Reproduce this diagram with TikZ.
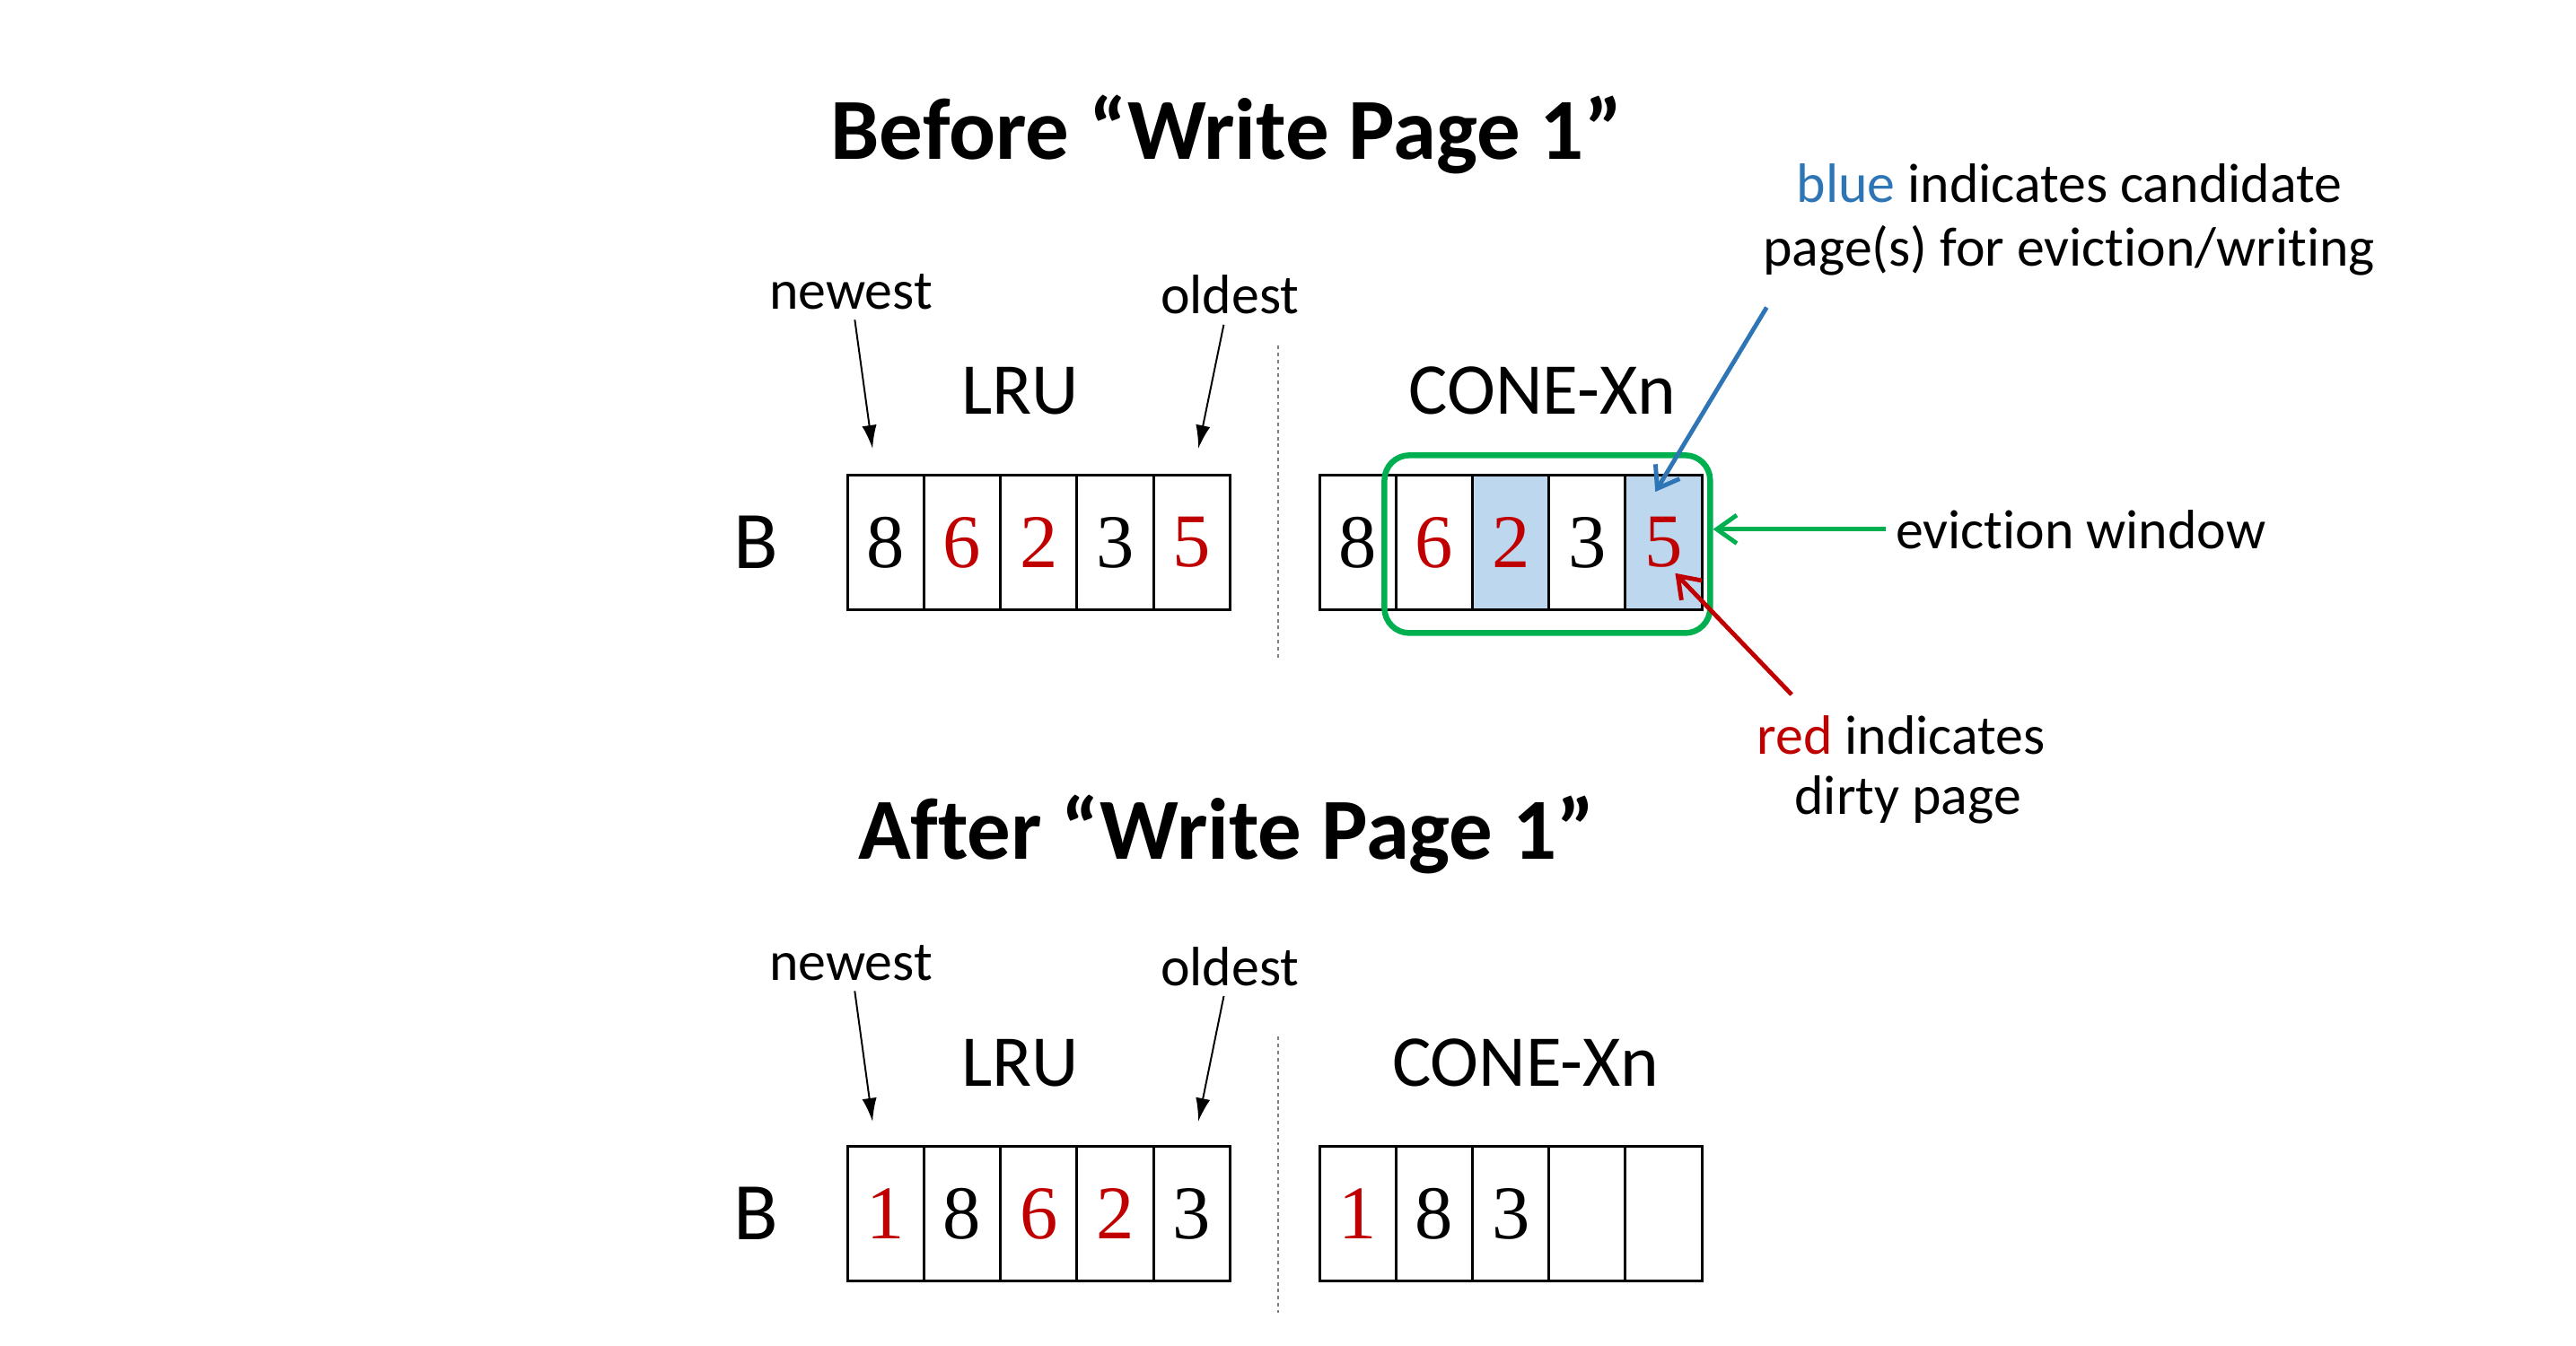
\documentclass[tikz,border=0pt]{standalone}
\usepackage{fontspec}
\setmainfont{Carlito}[Ligatures=NoCommon]
\newfontfamily\digitfont{Liberation Serif}
\usetikzlibrary{arrows.meta}
\definecolor{dirtyred}{HTML}{C00000}
\definecolor{candblue}{HTML}{2E75B6}
\definecolor{candfill}{HTML}{BDD7EE}
\definecolor{wingreen}{HTML}{00B050}
\tikzset{
    cell/.style={draw, line width=0.9pt, minimum width=0.92cm, minimum height=1.62cm, inner sep=0pt, font=\digitfont\fontsize{26}{26}\selectfont},
    dirty/.style={text=dirtyred},
    cand/.style={fill=candfill},
    titletext/.style={anchor=base, font=\bfseries\fontsize{29.8}{29.8}\selectfont},
    policy/.style={anchor=base, font=\fontsize{25}{25}\selectfont},
    buf/.style={anchor=base, font=\fontsize{28}{28}\selectfont},
    note/.style={anchor=base, font=\fontsize{19}{19}\selectfont},
    pointer/.style={-{Latex[length=8pt,width=5pt]}, line width=0.6pt},
    hint/.style={-{Straight Barb[length=0.24cm,width=0.34cm]}, line width=1.5pt},
    divider/.style={gray, line width=0.5pt, dash pattern=on 1.2pt off 1.2pt},
    window/.style={draw=wingreen, line width=2pt, rounded corners=0.3cm, minimum width=3.92cm, minimum height=2.14cm},
}
\begin{document}
\begin{tikzpicture}[x=0.02cm, y=-0.02cm]
    \useasboundingbox (0,0) rectangle (1550,810);
    % before writing page 1
    \draw(738,96) node [titletext](before){Before “Write Page 1”};
    \draw(512,186) node [note](newest1){newest};
    \draw(740,189) node [note](oldest1){oldest};
    \draw(614,249) node [policy](lru1){LRU};
    \draw(928,249) node [policy](cone1){CONE-Xn};
    \draw(455,342) node [buf](b1){B};

    \draw(533,326.5) node [cell](l1){8};
    \draw(579,326.5) node [cell, dirty](l2){6};
    \draw(625,326.5) node [cell, dirty](l3){2};
    \draw(671,326.5) node [cell](l4){3};
    \draw(717,326.5) node [cell, dirty](l5){5};

    \draw(817,326.5) node [cell](c1){8};
    \draw(863,326.5) node [cell, dirty](c2){6};
    \draw(909,326.5) node [cell, dirty, cand](c3){2};
    \draw(955,326.5) node [cell](c4){3};
    \draw(1001,326.5) node [cell, dirty, cand](c5){5};

    \draw(931,327.5) node [window](win){};

    \draw(1245,122) node [note](bluenote1){{\color{candblue}blue} indicates candidate};
    \draw(1245,160) node [note](bluenote2){page(s) for eviction/writing};
    \draw(1252,330) node [note](evict){eviction window};
    \draw(1144,454) node [note](rednote1){{\color{dirtyred}red} indicates};
    \draw(1148,490) node [note](rednote2){dirty page};

    \coordinate (nt1) at (525,270);
    \coordinate (ot1) at (721,270);
    \coordinate (bt) at (1063,185);
    \coordinate (bh) at (996,296);
    \coordinate (rt) at (1078,418);
    \coordinate (rh) at (1008,345);

    \draw[pointer] (newest1) -- (nt1);
    \draw[pointer] (oldest1) -- (ot1);
    \draw[hint, candblue] (bt) -- (bh);
    \draw[hint, dirtyred] (rt) -- (rh);
    \draw[hint, wingreen] (evict.west) -- (win.east |- evict.west);

    \draw[divider] (769,208) -- (769,397);

    % after writing page 1
    \draw(738,517) node [titletext](after){After “Write Page 1”};
    \draw(512,590) node [note](newest2){newest};
    \draw(740,593) node [note](oldest2){oldest};
    \draw(614,654) node [policy](lru2){LRU};
    \draw(918,654) node [policy](cone2){CONE-Xn};
    \draw(455,746) node [buf](b2){B};

    \draw(533,730.5) node [cell, dirty](m1){1};
    \draw(579,730.5) node [cell](m2){8};
    \draw(625,730.5) node [cell, dirty](m3){6};
    \draw(671,730.5) node [cell, dirty](m4){2};
    \draw(717,730.5) node [cell](m5){3};

    \draw(817,730.5) node [cell, dirty](d1){1};
    \draw(863,730.5) node [cell](d2){8};
    \draw(909,730.5) node [cell](d3){3};
    \draw(955,730.5) node [cell](d4){};
    \draw(1001,730.5) node [cell](d5){};

    \coordinate (nt2) at (525,675);
    \coordinate (ot2) at (721,675);
    \draw[pointer] (newest2) -- (nt2);
    \draw[pointer] (oldest2) -- (ot2);

    \draw[divider] (769,624) -- (769,790);
\end{tikzpicture}
\end{document}
